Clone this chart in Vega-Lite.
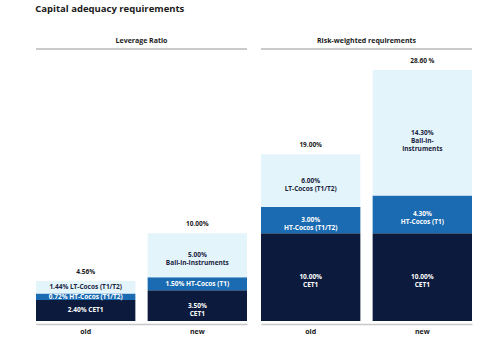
{
  "$schema": "https://vega.github.io/schema/vega-lite/v6.json",
  "padding": {"left": 35, "top": 3, "right": 15, "bottom": 3},
  "background": "white",
  "title": {"text": "Capital adequacy requirements", "anchor": "start", "fontSize": 9.5, "font": "Open Sans", "fontWeight": "bold", "color": "#1a1a1a", "offset": 24},
  "data": {"values": [
    {"group": "Leverage Ratio", "period": "old", "kind": "seg", "segment": "CET1", "order": 1, "value": 2.4, "label": "2.40% CET1"},
    {"group": "Leverage Ratio", "period": "old", "kind": "seg", "segment": "HT", "order": 2, "value": 0.72, "label": "0.72% HT-Cocos (T1/T2)"},
    {"group": "Leverage Ratio", "period": "old", "kind": "seg", "segment": "LT", "order": 3, "value": 1.44, "label": "1.44% LT-Cocos (T1/T2)"},
    {"group": "Leverage Ratio", "period": "old", "kind": "total", "segment": "total", "order": 4, "value": 4.56, "label": "4.56%"},
    {"group": "Leverage Ratio", "period": "new", "kind": "seg", "segment": "CET1", "order": 1, "value": 3.5, "label": "3.50%\nCET1"},
    {"group": "Leverage Ratio", "period": "new", "kind": "seg", "segment": "HT", "order": 2, "value": 1.5, "label": "1.50% HT-Cocos (T1)"},
    {"group": "Leverage Ratio", "period": "new", "kind": "seg", "segment": "LT", "order": 3, "value": 5.0, "label": "5.00%\nBail-in-Instruments"},
    {"group": "Leverage Ratio", "period": "new", "kind": "total", "segment": "total", "order": 4, "value": 10.0, "label": "10.00%"},
    {"group": "Risk-weighted requirements", "period": "old", "kind": "seg", "segment": "CET1", "order": 1, "value": 10.0, "label": "10.00%\nCET1"},
    {"group": "Risk-weighted requirements", "period": "old", "kind": "seg", "segment": "HT", "order": 2, "value": 3.0, "label": "3.00%\nHT-Cocos (T1/T2)"},
    {"group": "Risk-weighted requirements", "period": "old", "kind": "seg", "segment": "LT", "order": 3, "value": 6.0, "label": "6.00%\nLT-Cocos (T1/T2)"},
    {"group": "Risk-weighted requirements", "period": "old", "kind": "total", "segment": "total", "order": 4, "value": 19.0, "label": "19.00%"},
    {"group": "Risk-weighted requirements", "period": "new", "kind": "seg", "segment": "CET1", "order": 1, "value": 10.0, "label": "10.00%\nCET1"},
    {"group": "Risk-weighted requirements", "period": "new", "kind": "seg", "segment": "HT", "order": 2, "value": 4.3, "label": "4.30%\nHT-Cocos (T1)"},
    {"group": "Risk-weighted requirements", "period": "new", "kind": "seg", "segment": "LT", "order": 3, "value": 14.3, "label": "14.30%\nBail-in-\nInstruments"},
    {"group": "Risk-weighted requirements", "period": "new", "kind": "total", "segment": "total", "order": 4, "value": 28.6, "label": "28.60 %"}
  ]},
  "facet": {"column": {"field": "group", "type": "nominal", "sort": ["Leverage Ratio", "Risk-weighted requirements"], "title": null,
    "header": {"labelFontSize": 7, "labelFont": "Open Sans", "labelFontWeight": "bold", "labelColor": "#1a1a1a", "labelPadding": 4}}},
  "spacing": 12,
  "spec": {
    "width": 211,
    "height": 272,
    "layer": [
      {
        "transform": [{"filter": "datum.kind === 'seg'"}],
        "mark": {"type": "bar"},
        "encoding": {
          "x": {"field": "period", "type": "nominal", "sort": ["old", "new"],
            "scale": {"paddingInner": 0.11, "paddingOuter": 0},
            "axis": {"title": null, "labelAngle": 0, "domainColor": "#c8c8c8", "domainWidth": 1.5, "ticks": false, "offset": 3, "labelFont": "Open Sans", "labelFontSize": 7, "labelFontWeight": "bold", "labelColor": "#1a1a1a", "labelPadding": 3}},
          "y": {"field": "value", "type": "quantitative", "stack": "zero", "scale": {"domain": [0, 31], "nice": false}, "axis": null},
          "order": {"field": "order", "type": "quantitative"},
          "color": {"field": "segment", "type": "nominal", "scale": {"domain": ["CET1", "HT", "LT"], "range": ["#0c1b3d", "#1b6bb2", "#e3f4fb"]}, "legend": null}
        }
      },
      {
        "transform": [
          {"filter": "datum.kind === 'seg'"},
          {"stack": "value", "groupby": ["group", "period"], "sort": [{"field": "order"}], "as": ["v0", "v1"]},
          {"calculate": "(datum.v0 + datum.v1) / 2", "as": "mid"}
        ],
        "mark": {"type": "text", "font": "Open Sans", "fontSize": 6.5, "fontWeight": "bold", "baseline": "middle", "lineBreak": "\n", "lineHeight": 8},
        "encoding": {
          "x": {"field": "period", "type": "nominal", "sort": ["old", "new"]},
          "y": {"field": "mid", "type": "quantitative", "scale": {"domain": [0, 31], "nice": false}},
          "text": {"field": "label"},
          "color": {"condition": {"test": "datum.segment === 'LT'", "value": "#1a2340"}, "value": "#ffffff"}
        }
      },
      {
        "transform": [{"filter": "datum.kind === 'total'"}],
        "mark": {"type": "text", "font": "Open Sans", "fontSize": 6.5, "fontWeight": "bold", "baseline": "middle", "dy": -9, "color": "#1a1a1a"},
        "encoding": {
          "x": {"field": "period", "type": "nominal", "sort": ["old", "new"]},
          "y": {"field": "value", "type": "quantitative", "scale": {"domain": [0, 31], "nice": false}},
          "text": {"field": "label"}
        }
      },
      {
        "transform": [{"filter": "datum.kind === 'total' && datum.period === 'old'"}],
        "mark": {"type": "rule", "color": "#b8b8b8", "strokeWidth": 1.5},
        "encoding": {"y": {"datum": 31, "scale": {"domain": [0, 31], "nice": false}}}
      }
    ]
  },
  "config": {"view": {"stroke": null}}
}
